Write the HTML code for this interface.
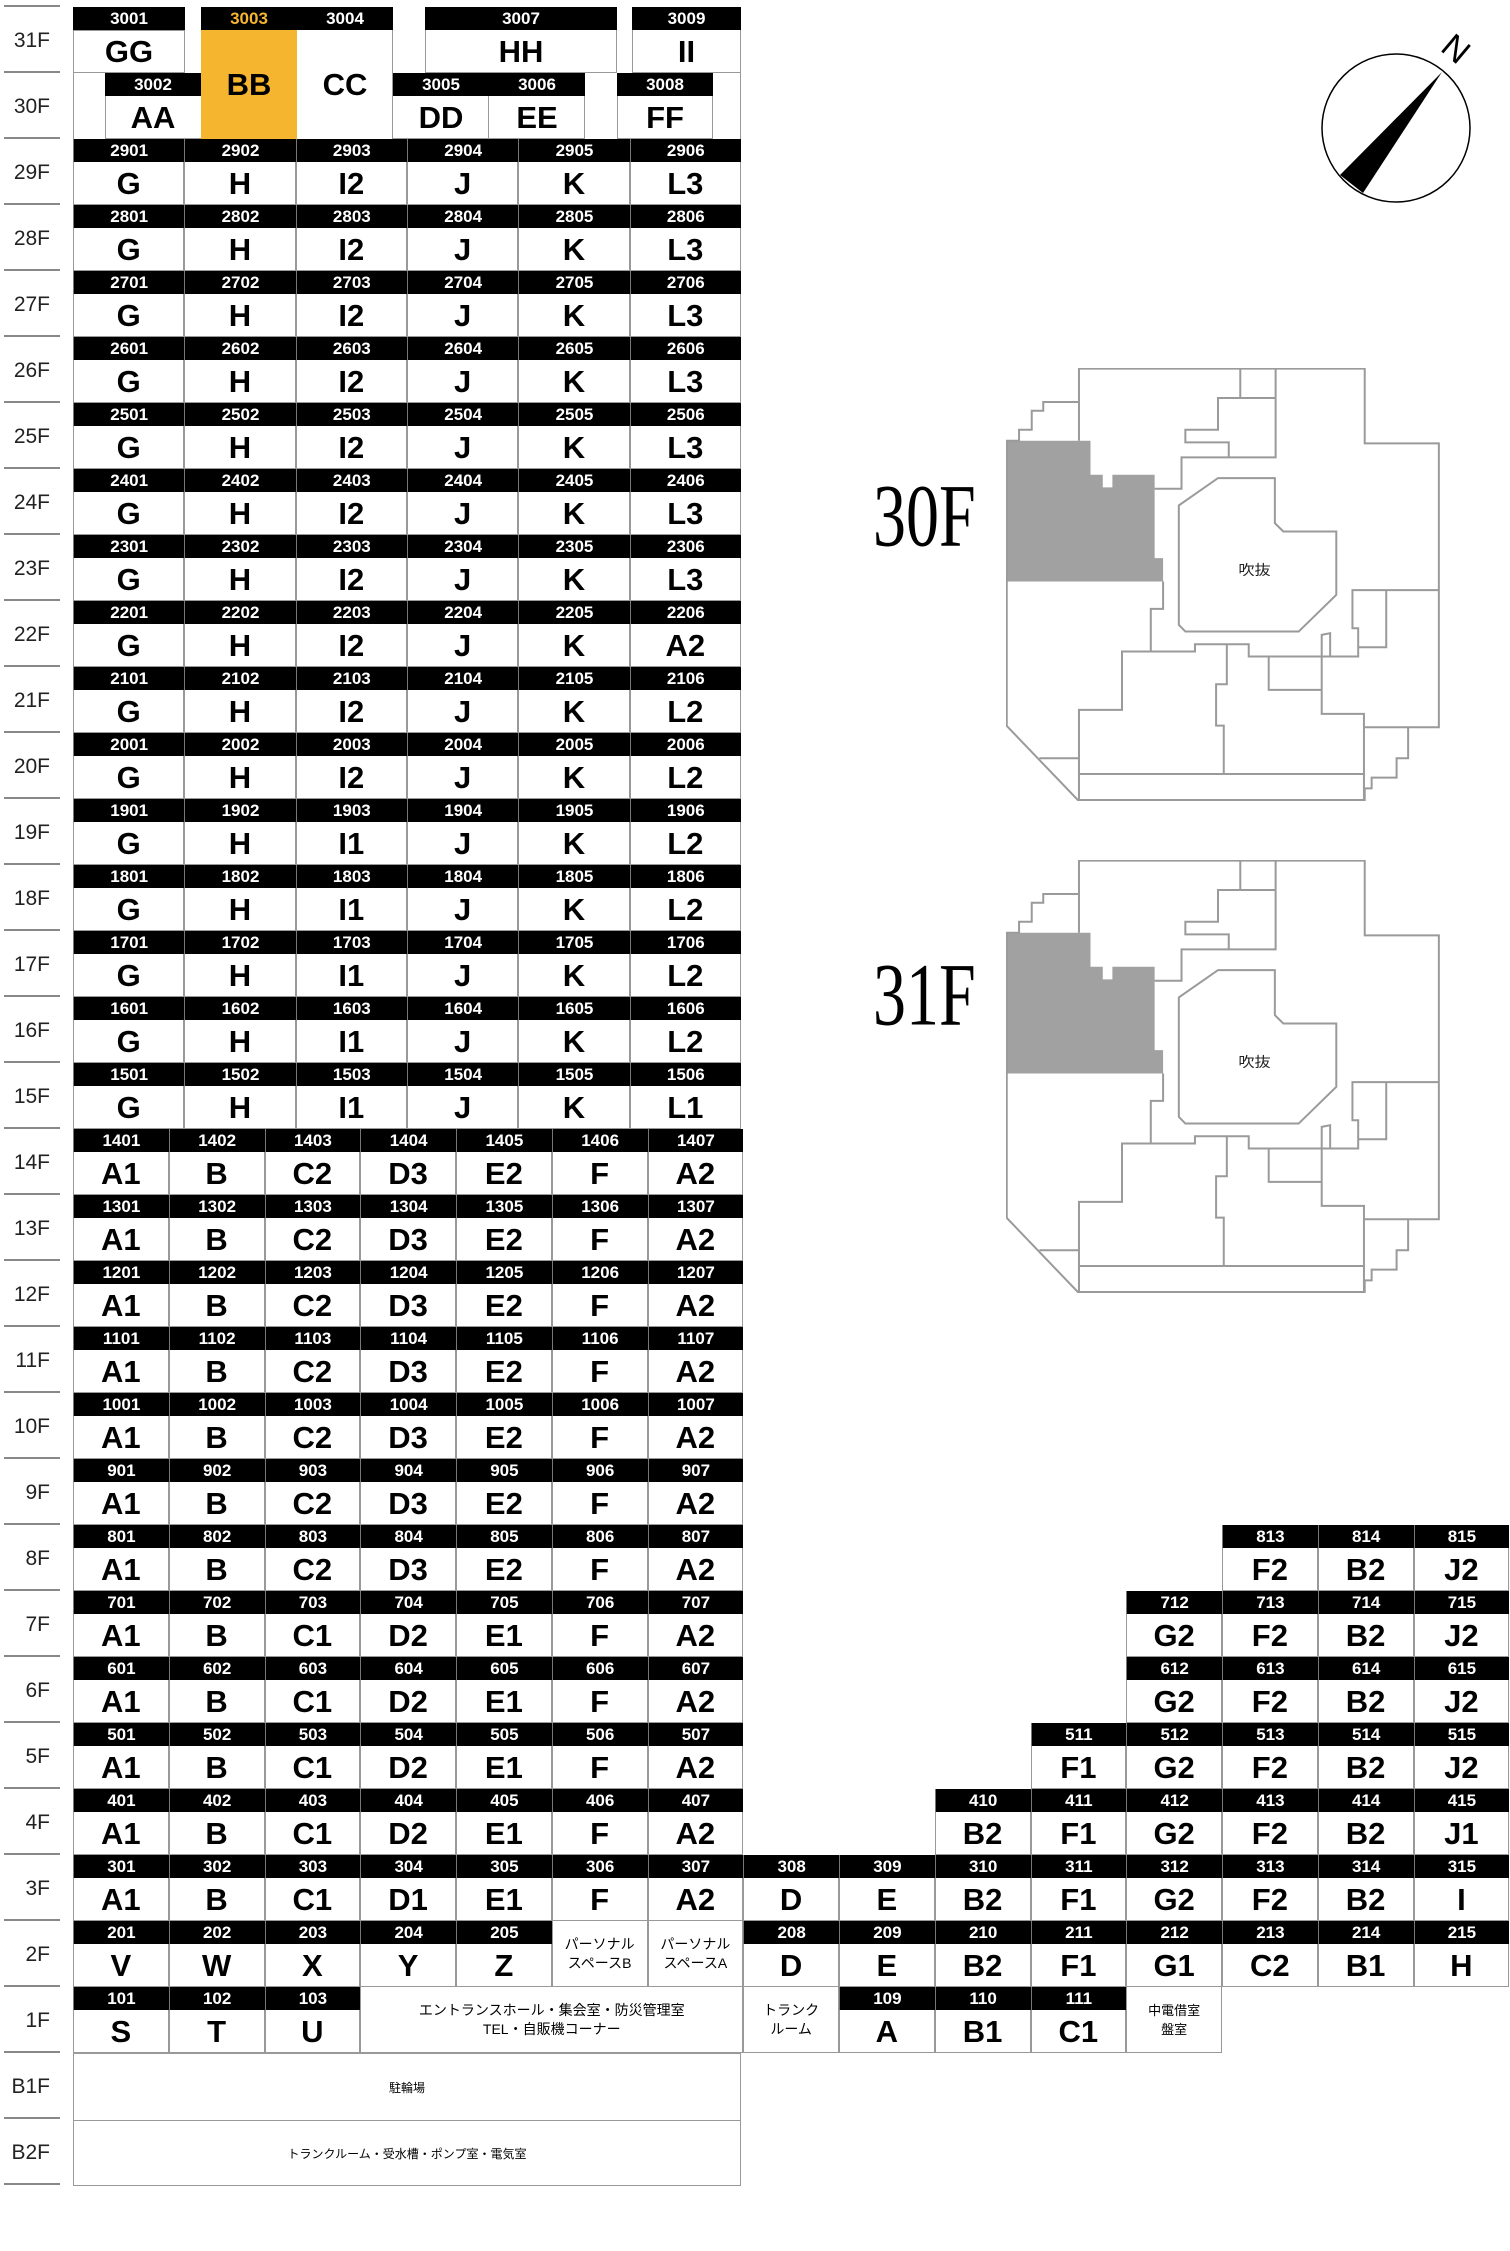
<!DOCTYPE html>
<html><head><meta charset="utf-8"><style>
*{margin:0;padding:0;box-sizing:border-box}
body{width:1510px;height:2188px;background:#fff;position:relative;overflow:hidden;font-family:"Liberation Sans","Noto Sans CJK JP",sans-serif}
.r{position:absolute;left:73px;height:66px;display:flex}
.c{height:66px;flex:none;box-shadow:inset 1px 0 #999,inset -1px 0 #999;position:relative}
.u .c{width:111.33px}.l .c{width:95.75px}
.h{height:23px;background:#000;color:#fff;font-weight:bold;font-size:17px;line-height:23px;text-align:center;border-left:1px solid #777}
.b{height:43px;font-weight:bold;font-size:31px;line-height:44px;text-align:center;color:#000;box-shadow:inset 0 -1px #999}
.s{flex:none}
.t{height:66px;display:flex;align-items:center;justify-content:center;text-align:center;font-size:14px;line-height:19px;box-shadow:inset 0 -1px #999}
.fl{position:absolute;left:4px;width:56px;height:66px}
.fl:before{content:"";position:absolute;left:0;top:-2px;width:56px;height:2px;background:#888}
.fl span{position:absolute;right:10px;top:22px;font-size:21px;color:#222}
.a{position:absolute}
.a .h,.a .b{border:none}
.bx{position:absolute;box-shadow:inset 0 0 0 1px #999}
.big{position:absolute;font-family:"Liberation Serif",serif;font-size:66px;transform:scaleY(1.35);transform-origin:left bottom;color:#000}
</style></head><body>

<!-- floor labels -->
<div class="fl" style="top:7px"><span>31F</span></div>
<div class="fl" style="top:73px"><span>30F</span></div>
<div class="fl" style="top:139px"><span>29F</span></div>
<div class="fl" style="top:205px"><span>28F</span></div>
<div class="fl" style="top:271px"><span>27F</span></div>
<div class="fl" style="top:337px"><span>26F</span></div>
<div class="fl" style="top:403px"><span>25F</span></div>
<div class="fl" style="top:469px"><span>24F</span></div>
<div class="fl" style="top:535px"><span>23F</span></div>
<div class="fl" style="top:601px"><span>22F</span></div>
<div class="fl" style="top:667px"><span>21F</span></div>
<div class="fl" style="top:733px"><span>20F</span></div>
<div class="fl" style="top:799px"><span>19F</span></div>
<div class="fl" style="top:865px"><span>18F</span></div>
<div class="fl" style="top:931px"><span>17F</span></div>
<div class="fl" style="top:997px"><span>16F</span></div>
<div class="fl" style="top:1063px"><span>15F</span></div>
<div class="fl" style="top:1129px"><span>14F</span></div>
<div class="fl" style="top:1195px"><span>13F</span></div>
<div class="fl" style="top:1261px"><span>12F</span></div>
<div class="fl" style="top:1327px"><span>11F</span></div>
<div class="fl" style="top:1393px"><span>10F</span></div>
<div class="fl" style="top:1459px"><span>9F</span></div>
<div class="fl" style="top:1525px"><span>8F</span></div>
<div class="fl" style="top:1591px"><span>7F</span></div>
<div class="fl" style="top:1657px"><span>6F</span></div>
<div class="fl" style="top:1723px"><span>5F</span></div>
<div class="fl" style="top:1789px"><span>4F</span></div>
<div class="fl" style="top:1855px"><span>3F</span></div>
<div class="fl" style="top:1921px"><span>2F</span></div>
<div class="fl" style="top:1987px"><span>1F</span></div>
<div class="fl" style="top:2053px"><span>B1F</span></div>
<div class="fl" style="top:2119px"><span>B2F</span></div>
<div class="fl" style="top:2185px"></div>

<!-- 31F/30F -->
<div class="a" style="left:73px;top:7px;width:112px"><div class="h">3001</div><div class="b bx" style="position:relative">GG</div></div>
<div class="a" style="left:201px;top:7px;width:96px"><div class="h" style="color:#f5b52e">3003</div><div style="height:109px;background:#f5b52e;font-weight:bold;font-size:31px;line-height:109px;text-align:center">BB</div></div>
<div class="a" style="left:297px;top:7px;width:96px;box-shadow:inset -1px 0 #999"><div class="h">3004</div><div style="height:109px;font-weight:bold;font-size:31px;line-height:109px;text-align:center">CC</div></div>
<div class="a" style="left:425px;top:7px;width:192px;box-shadow:inset 1px 0 #999,inset -1px 0 #999"><div class="h">3007</div><div class="b">HH</div></div>
<div class="a" style="left:632px;top:7px;width:109px;box-shadow:inset 1px 0 #999,inset -1px 0 #999"><div class="h">3009</div><div class="b">II</div></div>
<div class="a" style="left:105px;top:73px;width:96px;box-shadow:inset 1px 0 #999"><div class="h">3002</div><div class="b">AA</div></div>
<div class="a" style="left:393px;top:73px;width:96px;box-shadow:inset -1px 0 #999"><div class="h">3005</div><div class="b">DD</div></div>
<div class="a" style="left:489px;top:73px;width:96px;box-shadow:inset -1px 0 #999"><div class="h">3006</div><div class="b">EE</div></div>
<div class="a" style="left:617px;top:73px;width:96px;box-shadow:inset 1px 0 #999,inset -1px 0 #999"><div class="h">3008</div><div class="b">FF</div></div>
<div class="a" style="left:73px;top:30px;width:1px;height:109px;background:#999"></div>
<div class="a" style="left:740px;top:30px;width:1px;height:109px;background:#999"></div>

<!-- upper floors -->
<div class="r u" style="top:139px"><div class="c"><div class="h">2901</div><div class="b">G</div></div><div class="c"><div class="h">2902</div><div class="b">H</div></div><div class="c"><div class="h">2903</div><div class="b">I2</div></div><div class="c"><div class="h">2904</div><div class="b">J</div></div><div class="c"><div class="h">2905</div><div class="b">K</div></div><div class="c"><div class="h">2906</div><div class="b">L3</div></div></div>
<div class="r u" style="top:205px"><div class="c"><div class="h">2801</div><div class="b">G</div></div><div class="c"><div class="h">2802</div><div class="b">H</div></div><div class="c"><div class="h">2803</div><div class="b">I2</div></div><div class="c"><div class="h">2804</div><div class="b">J</div></div><div class="c"><div class="h">2805</div><div class="b">K</div></div><div class="c"><div class="h">2806</div><div class="b">L3</div></div></div>
<div class="r u" style="top:271px"><div class="c"><div class="h">2701</div><div class="b">G</div></div><div class="c"><div class="h">2702</div><div class="b">H</div></div><div class="c"><div class="h">2703</div><div class="b">I2</div></div><div class="c"><div class="h">2704</div><div class="b">J</div></div><div class="c"><div class="h">2705</div><div class="b">K</div></div><div class="c"><div class="h">2706</div><div class="b">L3</div></div></div>
<div class="r u" style="top:337px"><div class="c"><div class="h">2601</div><div class="b">G</div></div><div class="c"><div class="h">2602</div><div class="b">H</div></div><div class="c"><div class="h">2603</div><div class="b">I2</div></div><div class="c"><div class="h">2604</div><div class="b">J</div></div><div class="c"><div class="h">2605</div><div class="b">K</div></div><div class="c"><div class="h">2606</div><div class="b">L3</div></div></div>
<div class="r u" style="top:403px"><div class="c"><div class="h">2501</div><div class="b">G</div></div><div class="c"><div class="h">2502</div><div class="b">H</div></div><div class="c"><div class="h">2503</div><div class="b">I2</div></div><div class="c"><div class="h">2504</div><div class="b">J</div></div><div class="c"><div class="h">2505</div><div class="b">K</div></div><div class="c"><div class="h">2506</div><div class="b">L3</div></div></div>
<div class="r u" style="top:469px"><div class="c"><div class="h">2401</div><div class="b">G</div></div><div class="c"><div class="h">2402</div><div class="b">H</div></div><div class="c"><div class="h">2403</div><div class="b">I2</div></div><div class="c"><div class="h">2404</div><div class="b">J</div></div><div class="c"><div class="h">2405</div><div class="b">K</div></div><div class="c"><div class="h">2406</div><div class="b">L3</div></div></div>
<div class="r u" style="top:535px"><div class="c"><div class="h">2301</div><div class="b">G</div></div><div class="c"><div class="h">2302</div><div class="b">H</div></div><div class="c"><div class="h">2303</div><div class="b">I2</div></div><div class="c"><div class="h">2304</div><div class="b">J</div></div><div class="c"><div class="h">2305</div><div class="b">K</div></div><div class="c"><div class="h">2306</div><div class="b">L3</div></div></div>
<div class="r u" style="top:601px"><div class="c"><div class="h">2201</div><div class="b">G</div></div><div class="c"><div class="h">2202</div><div class="b">H</div></div><div class="c"><div class="h">2203</div><div class="b">I2</div></div><div class="c"><div class="h">2204</div><div class="b">J</div></div><div class="c"><div class="h">2205</div><div class="b">K</div></div><div class="c"><div class="h">2206</div><div class="b">A2</div></div></div>
<div class="r u" style="top:667px"><div class="c"><div class="h">2101</div><div class="b">G</div></div><div class="c"><div class="h">2102</div><div class="b">H</div></div><div class="c"><div class="h">2103</div><div class="b">I2</div></div><div class="c"><div class="h">2104</div><div class="b">J</div></div><div class="c"><div class="h">2105</div><div class="b">K</div></div><div class="c"><div class="h">2106</div><div class="b">L2</div></div></div>
<div class="r u" style="top:733px"><div class="c"><div class="h">2001</div><div class="b">G</div></div><div class="c"><div class="h">2002</div><div class="b">H</div></div><div class="c"><div class="h">2003</div><div class="b">I2</div></div><div class="c"><div class="h">2004</div><div class="b">J</div></div><div class="c"><div class="h">2005</div><div class="b">K</div></div><div class="c"><div class="h">2006</div><div class="b">L2</div></div></div>
<div class="r u" style="top:799px"><div class="c"><div class="h">1901</div><div class="b">G</div></div><div class="c"><div class="h">1902</div><div class="b">H</div></div><div class="c"><div class="h">1903</div><div class="b">I1</div></div><div class="c"><div class="h">1904</div><div class="b">J</div></div><div class="c"><div class="h">1905</div><div class="b">K</div></div><div class="c"><div class="h">1906</div><div class="b">L2</div></div></div>
<div class="r u" style="top:865px"><div class="c"><div class="h">1801</div><div class="b">G</div></div><div class="c"><div class="h">1802</div><div class="b">H</div></div><div class="c"><div class="h">1803</div><div class="b">I1</div></div><div class="c"><div class="h">1804</div><div class="b">J</div></div><div class="c"><div class="h">1805</div><div class="b">K</div></div><div class="c"><div class="h">1806</div><div class="b">L2</div></div></div>
<div class="r u" style="top:931px"><div class="c"><div class="h">1701</div><div class="b">G</div></div><div class="c"><div class="h">1702</div><div class="b">H</div></div><div class="c"><div class="h">1703</div><div class="b">I1</div></div><div class="c"><div class="h">1704</div><div class="b">J</div></div><div class="c"><div class="h">1705</div><div class="b">K</div></div><div class="c"><div class="h">1706</div><div class="b">L2</div></div></div>
<div class="r u" style="top:997px"><div class="c"><div class="h">1601</div><div class="b">G</div></div><div class="c"><div class="h">1602</div><div class="b">H</div></div><div class="c"><div class="h">1603</div><div class="b">I1</div></div><div class="c"><div class="h">1604</div><div class="b">J</div></div><div class="c"><div class="h">1605</div><div class="b">K</div></div><div class="c"><div class="h">1606</div><div class="b">L2</div></div></div>
<div class="r u" style="top:1063px"><div class="c"><div class="h">1501</div><div class="b">G</div></div><div class="c"><div class="h">1502</div><div class="b">H</div></div><div class="c"><div class="h">1503</div><div class="b">I1</div></div><div class="c"><div class="h">1504</div><div class="b">J</div></div><div class="c"><div class="h">1505</div><div class="b">K</div></div><div class="c"><div class="h">1506</div><div class="b">L1</div></div></div>

<!-- lower floors -->
<div class="r l" style="top:1129px"><div class="c"><div class="h">1401</div><div class="b">A1</div></div><div class="c"><div class="h">1402</div><div class="b">B</div></div><div class="c"><div class="h">1403</div><div class="b">C2</div></div><div class="c"><div class="h">1404</div><div class="b">D3</div></div><div class="c"><div class="h">1405</div><div class="b">E2</div></div><div class="c"><div class="h">1406</div><div class="b">F</div></div><div class="c"><div class="h">1407</div><div class="b">A2</div></div></div>
<div class="r l" style="top:1195px"><div class="c"><div class="h">1301</div><div class="b">A1</div></div><div class="c"><div class="h">1302</div><div class="b">B</div></div><div class="c"><div class="h">1303</div><div class="b">C2</div></div><div class="c"><div class="h">1304</div><div class="b">D3</div></div><div class="c"><div class="h">1305</div><div class="b">E2</div></div><div class="c"><div class="h">1306</div><div class="b">F</div></div><div class="c"><div class="h">1307</div><div class="b">A2</div></div></div>
<div class="r l" style="top:1261px"><div class="c"><div class="h">1201</div><div class="b">A1</div></div><div class="c"><div class="h">1202</div><div class="b">B</div></div><div class="c"><div class="h">1203</div><div class="b">C2</div></div><div class="c"><div class="h">1204</div><div class="b">D3</div></div><div class="c"><div class="h">1205</div><div class="b">E2</div></div><div class="c"><div class="h">1206</div><div class="b">F</div></div><div class="c"><div class="h">1207</div><div class="b">A2</div></div></div>
<div class="r l" style="top:1327px"><div class="c"><div class="h">1101</div><div class="b">A1</div></div><div class="c"><div class="h">1102</div><div class="b">B</div></div><div class="c"><div class="h">1103</div><div class="b">C2</div></div><div class="c"><div class="h">1104</div><div class="b">D3</div></div><div class="c"><div class="h">1105</div><div class="b">E2</div></div><div class="c"><div class="h">1106</div><div class="b">F</div></div><div class="c"><div class="h">1107</div><div class="b">A2</div></div></div>
<div class="r l" style="top:1393px"><div class="c"><div class="h">1001</div><div class="b">A1</div></div><div class="c"><div class="h">1002</div><div class="b">B</div></div><div class="c"><div class="h">1003</div><div class="b">C2</div></div><div class="c"><div class="h">1004</div><div class="b">D3</div></div><div class="c"><div class="h">1005</div><div class="b">E2</div></div><div class="c"><div class="h">1006</div><div class="b">F</div></div><div class="c"><div class="h">1007</div><div class="b">A2</div></div></div>
<div class="r l" style="top:1459px"><div class="c"><div class="h">901</div><div class="b">A1</div></div><div class="c"><div class="h">902</div><div class="b">B</div></div><div class="c"><div class="h">903</div><div class="b">C2</div></div><div class="c"><div class="h">904</div><div class="b">D3</div></div><div class="c"><div class="h">905</div><div class="b">E2</div></div><div class="c"><div class="h">906</div><div class="b">F</div></div><div class="c"><div class="h">907</div><div class="b">A2</div></div></div>
<div class="r l" style="top:1525px"><div class="c"><div class="h">801</div><div class="b">A1</div></div><div class="c"><div class="h">802</div><div class="b">B</div></div><div class="c"><div class="h">803</div><div class="b">C2</div></div><div class="c"><div class="h">804</div><div class="b">D3</div></div><div class="c"><div class="h">805</div><div class="b">E2</div></div><div class="c"><div class="h">806</div><div class="b">F</div></div><div class="c"><div class="h">807</div><div class="b">A2</div></div><div class="s" style="width:478.75px"></div><div class="c"><div class="h">813</div><div class="b">F2</div></div><div class="c"><div class="h">814</div><div class="b">B2</div></div><div class="c"><div class="h">815</div><div class="b">J2</div></div></div>
<div class="r l" style="top:1591px"><div class="c"><div class="h">701</div><div class="b">A1</div></div><div class="c"><div class="h">702</div><div class="b">B</div></div><div class="c"><div class="h">703</div><div class="b">C1</div></div><div class="c"><div class="h">704</div><div class="b">D2</div></div><div class="c"><div class="h">705</div><div class="b">E1</div></div><div class="c"><div class="h">706</div><div class="b">F</div></div><div class="c"><div class="h">707</div><div class="b">A2</div></div><div class="s" style="width:383px"></div><div class="c"><div class="h">712</div><div class="b">G2</div></div><div class="c"><div class="h">713</div><div class="b">F2</div></div><div class="c"><div class="h">714</div><div class="b">B2</div></div><div class="c"><div class="h">715</div><div class="b">J2</div></div></div>
<div class="r l" style="top:1657px"><div class="c"><div class="h">601</div><div class="b">A1</div></div><div class="c"><div class="h">602</div><div class="b">B</div></div><div class="c"><div class="h">603</div><div class="b">C1</div></div><div class="c"><div class="h">604</div><div class="b">D2</div></div><div class="c"><div class="h">605</div><div class="b">E1</div></div><div class="c"><div class="h">606</div><div class="b">F</div></div><div class="c"><div class="h">607</div><div class="b">A2</div></div><div class="s" style="width:383px"></div><div class="c"><div class="h">612</div><div class="b">G2</div></div><div class="c"><div class="h">613</div><div class="b">F2</div></div><div class="c"><div class="h">614</div><div class="b">B2</div></div><div class="c"><div class="h">615</div><div class="b">J2</div></div></div>
<div class="r l" style="top:1723px"><div class="c"><div class="h">501</div><div class="b">A1</div></div><div class="c"><div class="h">502</div><div class="b">B</div></div><div class="c"><div class="h">503</div><div class="b">C1</div></div><div class="c"><div class="h">504</div><div class="b">D2</div></div><div class="c"><div class="h">505</div><div class="b">E1</div></div><div class="c"><div class="h">506</div><div class="b">F</div></div><div class="c"><div class="h">507</div><div class="b">A2</div></div><div class="s" style="width:287.25px"></div><div class="c"><div class="h">511</div><div class="b">F1</div></div><div class="c"><div class="h">512</div><div class="b">G2</div></div><div class="c"><div class="h">513</div><div class="b">F2</div></div><div class="c"><div class="h">514</div><div class="b">B2</div></div><div class="c"><div class="h">515</div><div class="b">J2</div></div></div>
<div class="r l" style="top:1789px"><div class="c"><div class="h">401</div><div class="b">A1</div></div><div class="c"><div class="h">402</div><div class="b">B</div></div><div class="c"><div class="h">403</div><div class="b">C1</div></div><div class="c"><div class="h">404</div><div class="b">D2</div></div><div class="c"><div class="h">405</div><div class="b">E1</div></div><div class="c"><div class="h">406</div><div class="b">F</div></div><div class="c"><div class="h">407</div><div class="b">A2</div></div><div class="s" style="width:191.5px"></div><div class="c"><div class="h">410</div><div class="b">B2</div></div><div class="c"><div class="h">411</div><div class="b">F1</div></div><div class="c"><div class="h">412</div><div class="b">G2</div></div><div class="c"><div class="h">413</div><div class="b">F2</div></div><div class="c"><div class="h">414</div><div class="b">B2</div></div><div class="c"><div class="h">415</div><div class="b">J1</div></div></div>
<div class="r l" style="top:1855px"><div class="c"><div class="h">301</div><div class="b">A1</div></div><div class="c"><div class="h">302</div><div class="b">B</div></div><div class="c"><div class="h">303</div><div class="b">C1</div></div><div class="c"><div class="h">304</div><div class="b">D1</div></div><div class="c"><div class="h">305</div><div class="b">E1</div></div><div class="c"><div class="h">306</div><div class="b">F</div></div><div class="c"><div class="h">307</div><div class="b">A2</div></div><div class="c"><div class="h">308</div><div class="b">D</div></div><div class="c"><div class="h">309</div><div class="b">E</div></div><div class="c"><div class="h">310</div><div class="b">B2</div></div><div class="c"><div class="h">311</div><div class="b">F1</div></div><div class="c"><div class="h">312</div><div class="b">G2</div></div><div class="c"><div class="h">313</div><div class="b">F2</div></div><div class="c"><div class="h">314</div><div class="b">B2</div></div><div class="c"><div class="h">315</div><div class="b">I</div></div></div>
<div class="r l" style="top:1921px"><div class="c"><div class="h">201</div><div class="b">V</div></div><div class="c"><div class="h">202</div><div class="b">W</div></div><div class="c"><div class="h">203</div><div class="b">X</div></div><div class="c"><div class="h">204</div><div class="b">Y</div></div><div class="c"><div class="h">205</div><div class="b">Z</div></div><div class="c"><div class="t">パーソナル<br>スペースB</div></div><div class="c"><div class="t">パーソナル<br>スペースA</div></div><div class="c"><div class="h">208</div><div class="b">D</div></div><div class="c"><div class="h">209</div><div class="b">E</div></div><div class="c"><div class="h">210</div><div class="b">B2</div></div><div class="c"><div class="h">211</div><div class="b">F1</div></div><div class="c"><div class="h">212</div><div class="b">G1</div></div><div class="c"><div class="h">213</div><div class="b">C2</div></div><div class="c"><div class="h">214</div><div class="b">B1</div></div><div class="c"><div class="h">215</div><div class="b">H</div></div></div>
<div class="r l" style="top:1987px"><div class="c"><div class="h">101</div><div class="b">S</div></div><div class="c"><div class="h">102</div><div class="b">T</div></div><div class="c"><div class="h">103</div><div class="b">U</div></div><div class="c" style="width:383px"><div class="t">エントランスホール・集会室・防災管理室<br>TEL・自販機コーナー</div></div><div class="c"><div class="t">トランク<br>ルーム</div></div><div class="c"><div class="h">109</div><div class="b">A</div></div><div class="c"><div class="h">110</div><div class="b">B1</div></div><div class="c"><div class="h">111</div><div class="b">C1</div></div><div class="c"><div class="t" style="font-size:13px">中電借室<br>盤室</div></div></div>
<div class="bx" style="left:73px;top:2053px;width:668px;height:68px;display:flex;align-items:center;justify-content:center;font-size:12px">駐輪場</div>
<div class="bx" style="left:73px;top:2120px;width:668px;height:66px;display:flex;align-items:center;justify-content:center;font-size:12px">トランクルーム・受水槽・ポンプ室・電気室</div>

<!-- compass -->
<svg class="a" style="left:1300px;top:20px" width="210" height="190" viewBox="0 0 210 190">
<circle cx="96" cy="108" r="74" fill="none" stroke="#000" stroke-width="1.5"/>
<polygon points="142,52 40,155 63,173" fill="#000"/>
<text x="155" y="40" font-family="Liberation Sans,sans-serif" font-size="34" transform="rotate(40 155 30)" text-anchor="middle">N</text>
</svg>

<!-- maps -->
<div class="big" style="left:873px;top:497px;line-height:62px">30F</div>
<svg class="a" style="left:1006px;top:368px" width="434" height="433" viewBox="378 20 1130 1298" preserveAspectRatio="none">
<g fill="none" stroke="#9a9a9a" stroke-width="2" vector-effect="non-scaling-stroke">
<polygon fill="#a0a1a0" stroke="none" points="380,238 598,238 598,340 630,340 630,378 655,378 655,340 765,340 765,590 787,590 787,660 380,660"/>
<polygon vector-effect="non-scaling-stroke" points="568,22 1312,22 1312,246 1505,246 1505,1097 1425,1097 1425,1190 1395,1190 1395,1248 1330,1248 1330,1280 1312,1280 1312,1315 565,1315 380,1093 380,238 412,238 412,205 445,205 445,148 475,148 475,122 568,122"/>
<polyline vector-effect="non-scaling-stroke" points="568,122 568,238"/>
<polyline vector-effect="non-scaling-stroke" points="765,382 835,382 835,288 1080,288 1080,22"/>
<polyline vector-effect="non-scaling-stroke" points="988,22 988,108"/>
<polyline vector-effect="non-scaling-stroke" points="1080,110 930,110 930,205 845,205 845,243 958,243 958,288"/>
<polygon vector-effect="non-scaling-stroke" points="930,350 1078,350 1078,485 1100,510 1238,510 1238,700 1140,810 845,810 828,790 828,432"/>
<polyline vector-effect="non-scaling-stroke" points="787,660 787,742 755,742 755,870 680,870 680,1045 568,1045 568,1315"/>
<polyline vector-effect="non-scaling-stroke" points="680,870 870,870 870,848 1010,848 1010,885 1295,885 1295,800 1280,800 1280,686 1505,686"/>
<polyline vector-effect="non-scaling-stroke" points="1368,686 1368,857 1297,857"/>
<polyline vector-effect="non-scaling-stroke" points="953,850 953,968 925,968 925,1092 945,1092 945,1237"/>
<polyline vector-effect="non-scaling-stroke" points="568,1237 1310,1237 1310,1057 1200,1057 1200,820 1222,815 1222,885"/>
<polyline vector-effect="non-scaling-stroke" points="1062,885 1062,985 1200,985"/>
<polyline vector-effect="non-scaling-stroke" points="1310,1097 1425,1097"/>
<polyline vector-effect="non-scaling-stroke" points="1310,1237 1310,1315"/>
<polyline vector-effect="non-scaling-stroke" points="465,1190 568,1190"/>
</g>
<text x="1025" y="640" font-size="42" text-anchor="middle" font-family="Liberation Sans,Noto Sans CJK JP,sans-serif" fill="#222">吹抜</text>
</svg>

<div class="big" style="left:873px;top:976px;line-height:62px">31F</div>
<svg class="a" style="left:1006px;top:860px" width="434" height="433" viewBox="378 20 1130 1298" preserveAspectRatio="none">
<g fill="none" stroke="#9a9a9a" stroke-width="2">
<polygon fill="#a0a1a0" stroke="none" points="380,238 598,238 598,340 630,340 630,378 655,378 655,340 765,340 765,590 787,590 787,660 380,660"/>
<polygon vector-effect="non-scaling-stroke" points="568,22 1312,22 1312,246 1505,246 1505,1097 1425,1097 1425,1190 1395,1190 1395,1248 1330,1248 1330,1280 1312,1280 1312,1315 565,1315 380,1093 380,238 412,238 412,205 445,205 445,148 475,148 475,122 568,122"/>
<polyline vector-effect="non-scaling-stroke" points="568,122 568,238"/>
<polyline vector-effect="non-scaling-stroke" points="765,382 835,382 835,288 1080,288 1080,22"/>
<polyline vector-effect="non-scaling-stroke" points="988,22 988,108"/>
<polyline vector-effect="non-scaling-stroke" points="1080,110 930,110 930,205 845,205 845,243 958,243 958,288"/>
<polygon vector-effect="non-scaling-stroke" points="930,350 1078,350 1078,485 1100,510 1238,510 1238,700 1140,810 845,810 828,790 828,432"/>
<polyline vector-effect="non-scaling-stroke" points="787,660 787,742 755,742 755,870 680,870 680,1045 568,1045 568,1315"/>
<polyline vector-effect="non-scaling-stroke" points="680,870 870,870 870,848 1010,848 1010,885 1295,885 1295,800 1280,800 1280,686 1505,686"/>
<polyline vector-effect="non-scaling-stroke" points="1368,686 1368,857 1297,857"/>
<polyline vector-effect="non-scaling-stroke" points="953,850 953,968 925,968 925,1092 945,1092 945,1237"/>
<polyline vector-effect="non-scaling-stroke" points="568,1237 1310,1237 1310,1057 1200,1057 1200,820 1222,815 1222,885"/>
<polyline vector-effect="non-scaling-stroke" points="1062,885 1062,985 1200,985"/>
<polyline vector-effect="non-scaling-stroke" points="1310,1097 1425,1097"/>
<polyline vector-effect="non-scaling-stroke" points="1310,1237 1310,1315"/>
<polyline vector-effect="non-scaling-stroke" points="465,1190 568,1190"/>
</g>
<text x="1025" y="640" font-size="42" text-anchor="middle" font-family="Liberation Sans,Noto Sans CJK JP,sans-serif" fill="#222">吹抜</text>
</svg>

</body></html>
